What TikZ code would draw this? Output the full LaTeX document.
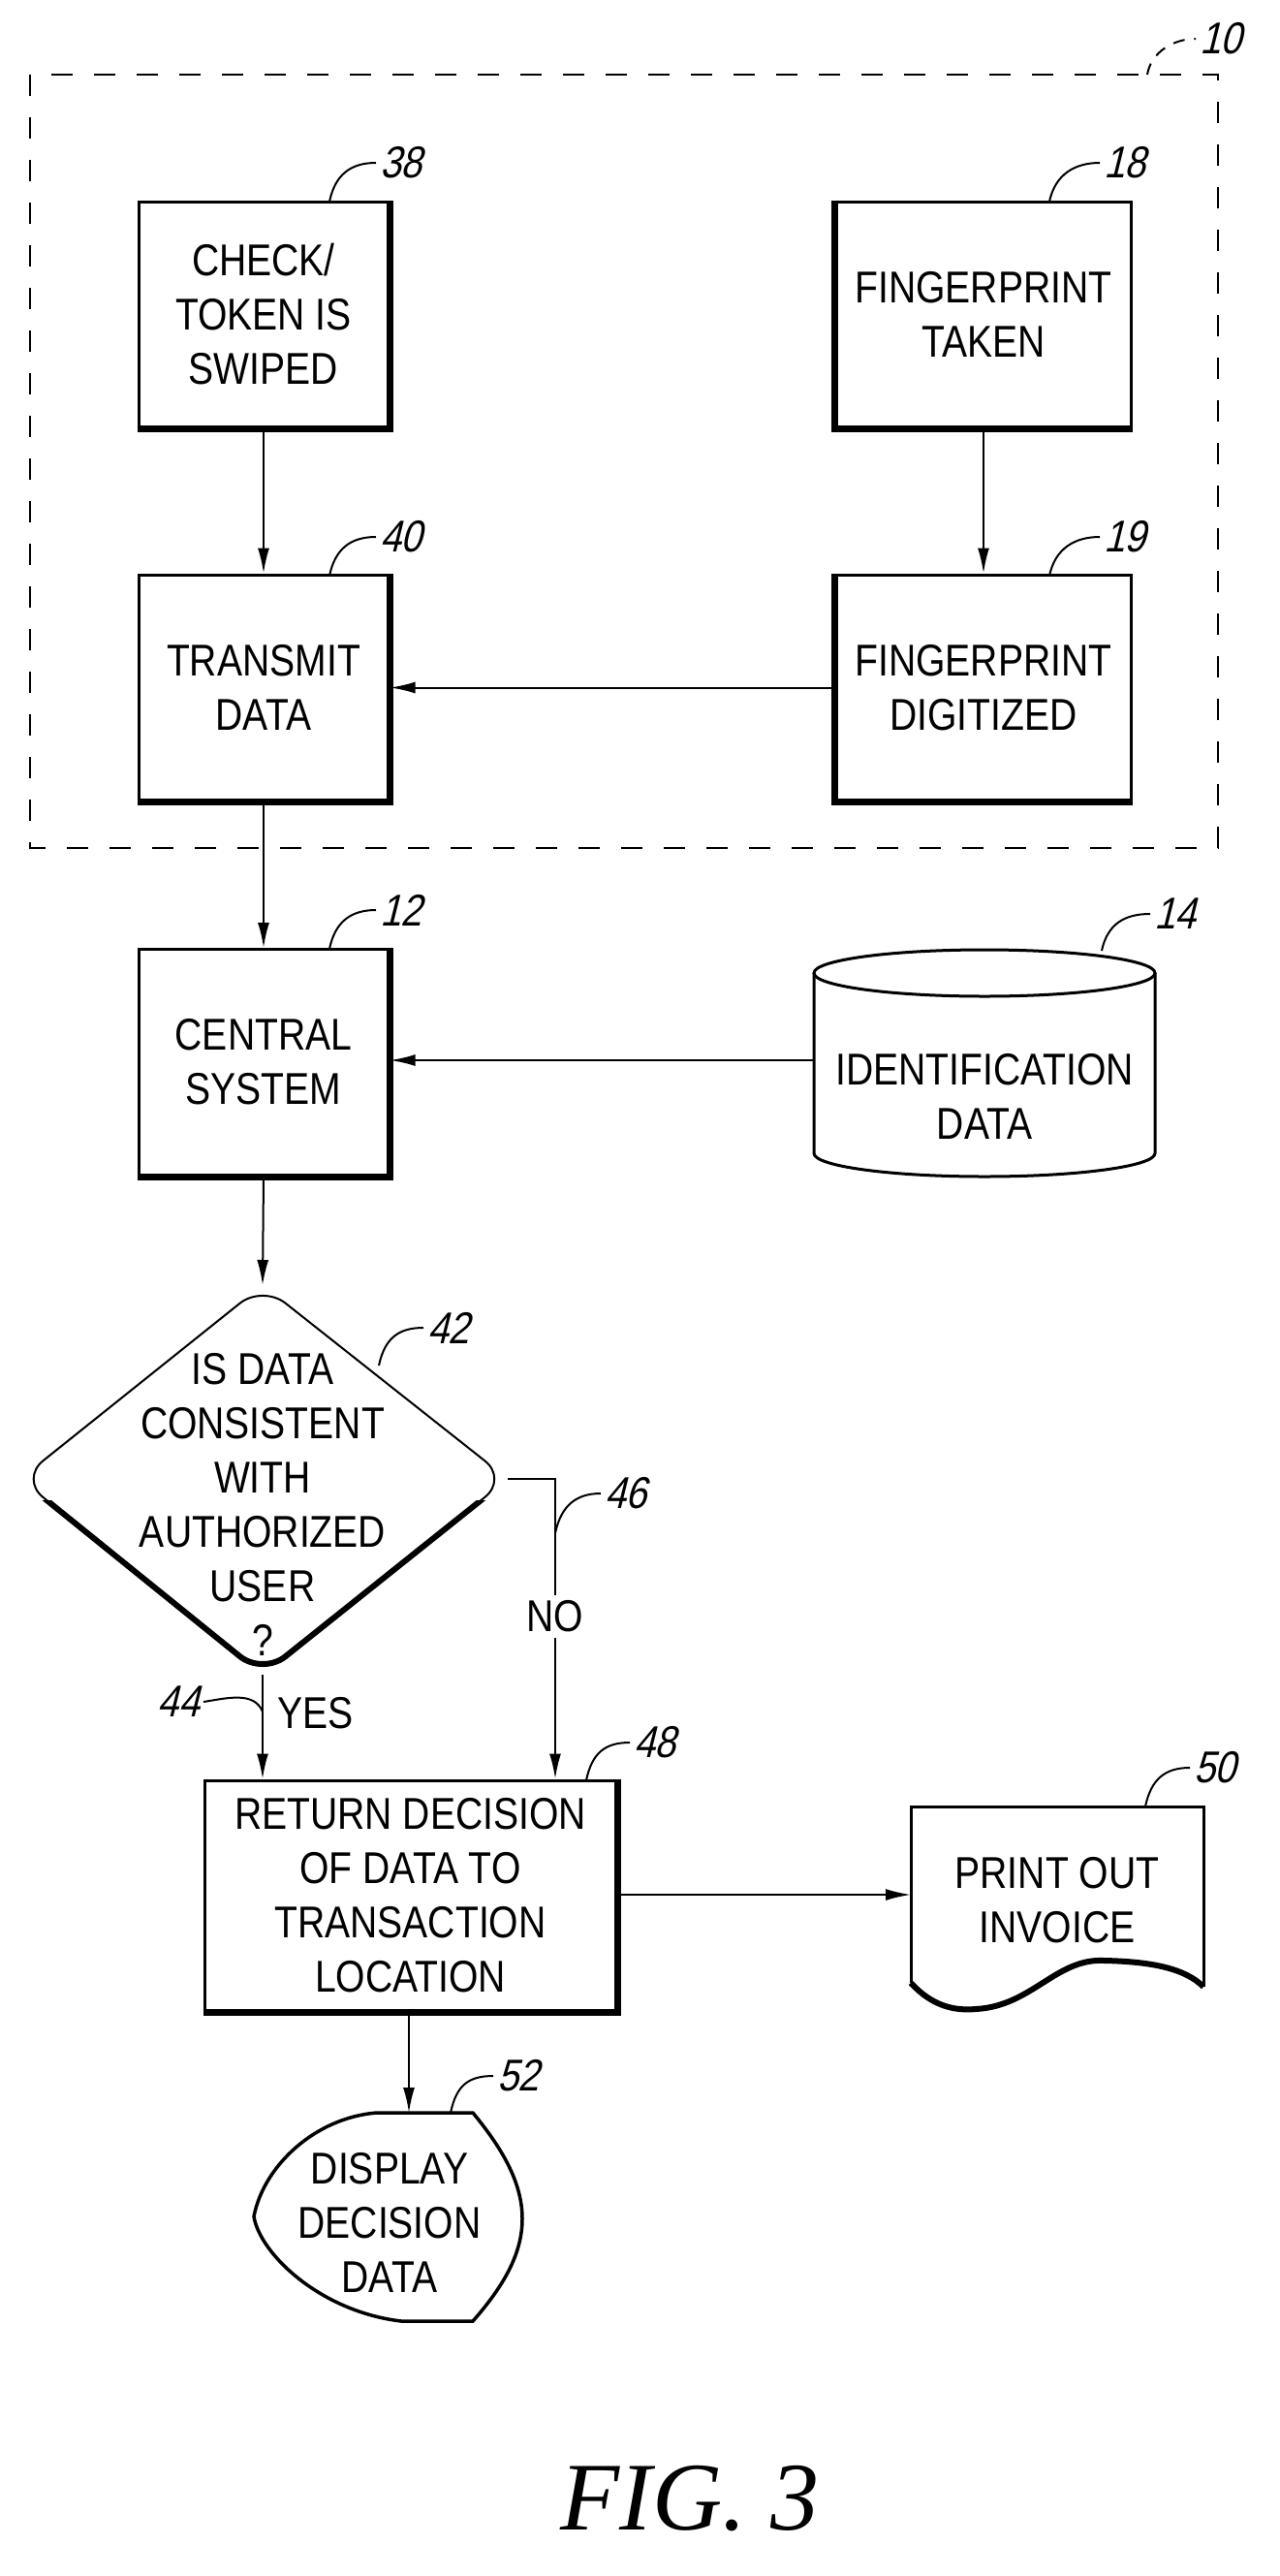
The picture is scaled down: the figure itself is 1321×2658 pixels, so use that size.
\documentclass[tikz,border=0pt]{standalone}
\usepackage{fontspec}
\setmainfont{Liberation Sans}[FakeStretch=0.85]
\newfontfamily\numfont{Liberation Sans}[FakeSlant=0.25,FakeStretch=0.85]
\newfontfamily\figfont{Liberation Serif}
\usetikzlibrary{arrows.meta}
\newcommand\reflab[3]{\draw[lead] (#1) .. controls +(6,-28) and +(-26,0) .. ++(#2) node[anchor=west,inner sep=3pt]{\numfont #3};}
\begin{document}
\begin{tikzpicture}[x=1pt,y=-1pt,
  every node/.style={font=\fontsize{46}{56}\selectfont, align=center, inner sep=0pt},
  box/.style={draw, line width=3pt, minimum width=#1, minimum height=233pt},
  shadow/.style={line width=7pt},
  arr/.style={line width=2pt, -{Latex[length=26pt,width=12pt]}},
  lead/.style={line width=2pt},
  thin/.style={line width=2pt}]
\useasboundingbox (0,0) rectangle (1321,2658);
\fill[white] (0,0) rectangle (1321,2658);
% dashed system box
\draw[line width=2.5pt, dash pattern=on 22pt off 22pt] (31,77) rectangle (1257,875);
\draw[lead, dash pattern=on 12pt off 10pt] (1184,77) .. controls +(4,-24) and +(-22,0) .. (1234,40) node[anchor=west,inner sep=3pt]{\numfont 10};
% boxes
\node[box=258pt] (b38) at (272,324.5) {CHECK/\\TOKEN IS\\SWIPED};
\node[box=304pt] (b18) at (1015,324.5) {FINGERPRINT\\TAKEN};
\node[box=258pt] (b40) at (272,709.5) {TRANSMIT\\DATA};
\node[box=304pt] (b19) at (1015,709.5) {FINGERPRINT\\DIGITIZED};
\node[box=258pt] (b12) at (272,1096) {CENTRAL\\SYSTEM};
\node[draw, line width=3pt, minimum width=425pt, minimum height=238pt] (b48) at (423.5,1956) {RETURN DECISION\\OF DATA TO\\TRANSACTION\\LOCATION};
% shadows
\draw[shadow] (b38.north east) -- (b38.south east) -- (b38.south west);
\draw[shadow] (b40.north east) -- (b40.south east) -- (b40.south west);
\draw[shadow] (b12.north east) -- (b12.south east) -- (b12.south west);
\draw[shadow] (b48.north east) -- (b48.south east) -- (b48.south west);
\draw[shadow] (b18.north west) -- (b18.south west) -- (b18.south east);
\draw[shadow] (b19.north west) -- (b19.south west) -- (b19.south east);
% cylinder
\draw[line width=3pt] (840,1004) -- (840,1190) arc[start angle=180,end angle=0,x radius=176,y radius=24] -- (1192,1004);
\draw[line width=3pt] (1016,1004) ellipse[x radius=176,y radius=24];
\node[minimum width=352pt] (cyl) at (1016,1131) {IDENTIFICATION\\DATA};
% diamond
\coordinate (dtop) at (271,1326);
\coordinate (dbot) at (271,1728);
\coordinate (dright) at (524,1526);
\coordinate (dleft) at (21,1526);
\draw[thin, rounded corners=30pt] (dtop) -- (dright) -- (dbot) -- (dleft) -- cycle;
\begin{scope}
\clip (0,1548) rectangle (600,1800);
\draw[line width=6pt, rounded corners=30pt] (dtop) -- (dright) -- (dbot) -- (dleft) -- cycle;
\end{scope}
\node (dia) at (271,1552) {IS DATA\\CONSISTENT\\WITH\\AUTHORIZED\\USER\\?};
% document
\draw[line width=3pt] (940,2046) -- (940,1864) -- (1242,1864) -- (1242,2050);
\draw[line width=6pt] (940,2046) .. controls (962,2070) and (985,2075) .. (1007,2073) .. controls (1065,2070) and (1090,2020) .. (1140,2023) .. controls (1185,2024) and (1222,2030) .. (1242,2050);
\node (doc) at (1091,1961) {PRINT OUT\\INVOICE};
\coordinate (docw) at (940,1955);
% display
\draw[line width=3.5pt] (389,2180) -- (488,2180) .. controls (556,2262) and (556,2318) .. (488,2395) -- (414,2395) .. controls (330,2385) and (268,2325) .. (262,2287) .. controls (272,2235) and (325,2185) .. (389,2180) -- cycle;
\node (disp) at (402,2293) {DISPLAY\\DECISION\\DATA};
\coordinate (dispt) at (422,2180);
% connectors
\draw[arr] (b38) -- (b40);
\draw[arr] (b18) -- (b19);
\draw[arr] (b19.west) -- (b40.east);
\draw[arr] (b40) -- (b12);
\draw[arr] (cyl.west |- 0,1094) -- (b12.east |- 0,1094);
\draw[arr] (b12.south) -- (dtop);
\draw[arr] (dbot) -- (dbot |- b48.north);
\coordinate (noc) at (573,1526);
\draw[arr] (dright) -- (noc) -- (noc |- b48.north);
\node[fill=white, inner sep=6pt] (no) at (573,1668) {NO};
\node[anchor=west] (yes) at (286,1768) {YES};
\draw[arr] (b48.east |- docw) -- (docw);
\draw[arr] (b48.south -| dispt) -- (dispt);
% reference labels
\reflab{340,208}{48,-40}{38}
\reflab{1083,208}{52,-40}{18}
\reflab{340,594}{48,-40}{40}
\reflab{1083,594}{52,-40}{19}
\reflab{340,979}{48,-40}{12}
\reflab{1137,981}{50,-38}{14}
\reflab{391,1409}{46,-39}{42}
\reflab{573,1582}{47,-41}{46}
\reflab{605,1837}{45,-39}{48}
\reflab{1182,1864}{46,-40}{50}
\reflab{465,2180}{44,-38}{52}
\draw[lead] (271,1766) .. controls (262,1745) and (235,1752) .. (210,1756) node[anchor=east,inner sep=3pt]{\numfont 44};
% caption
\node (fig) at (712,2578) {\fontsize{100}{110}\selectfont\figfont\itshape FIG. 3};
\end{tikzpicture}
\end{document}
